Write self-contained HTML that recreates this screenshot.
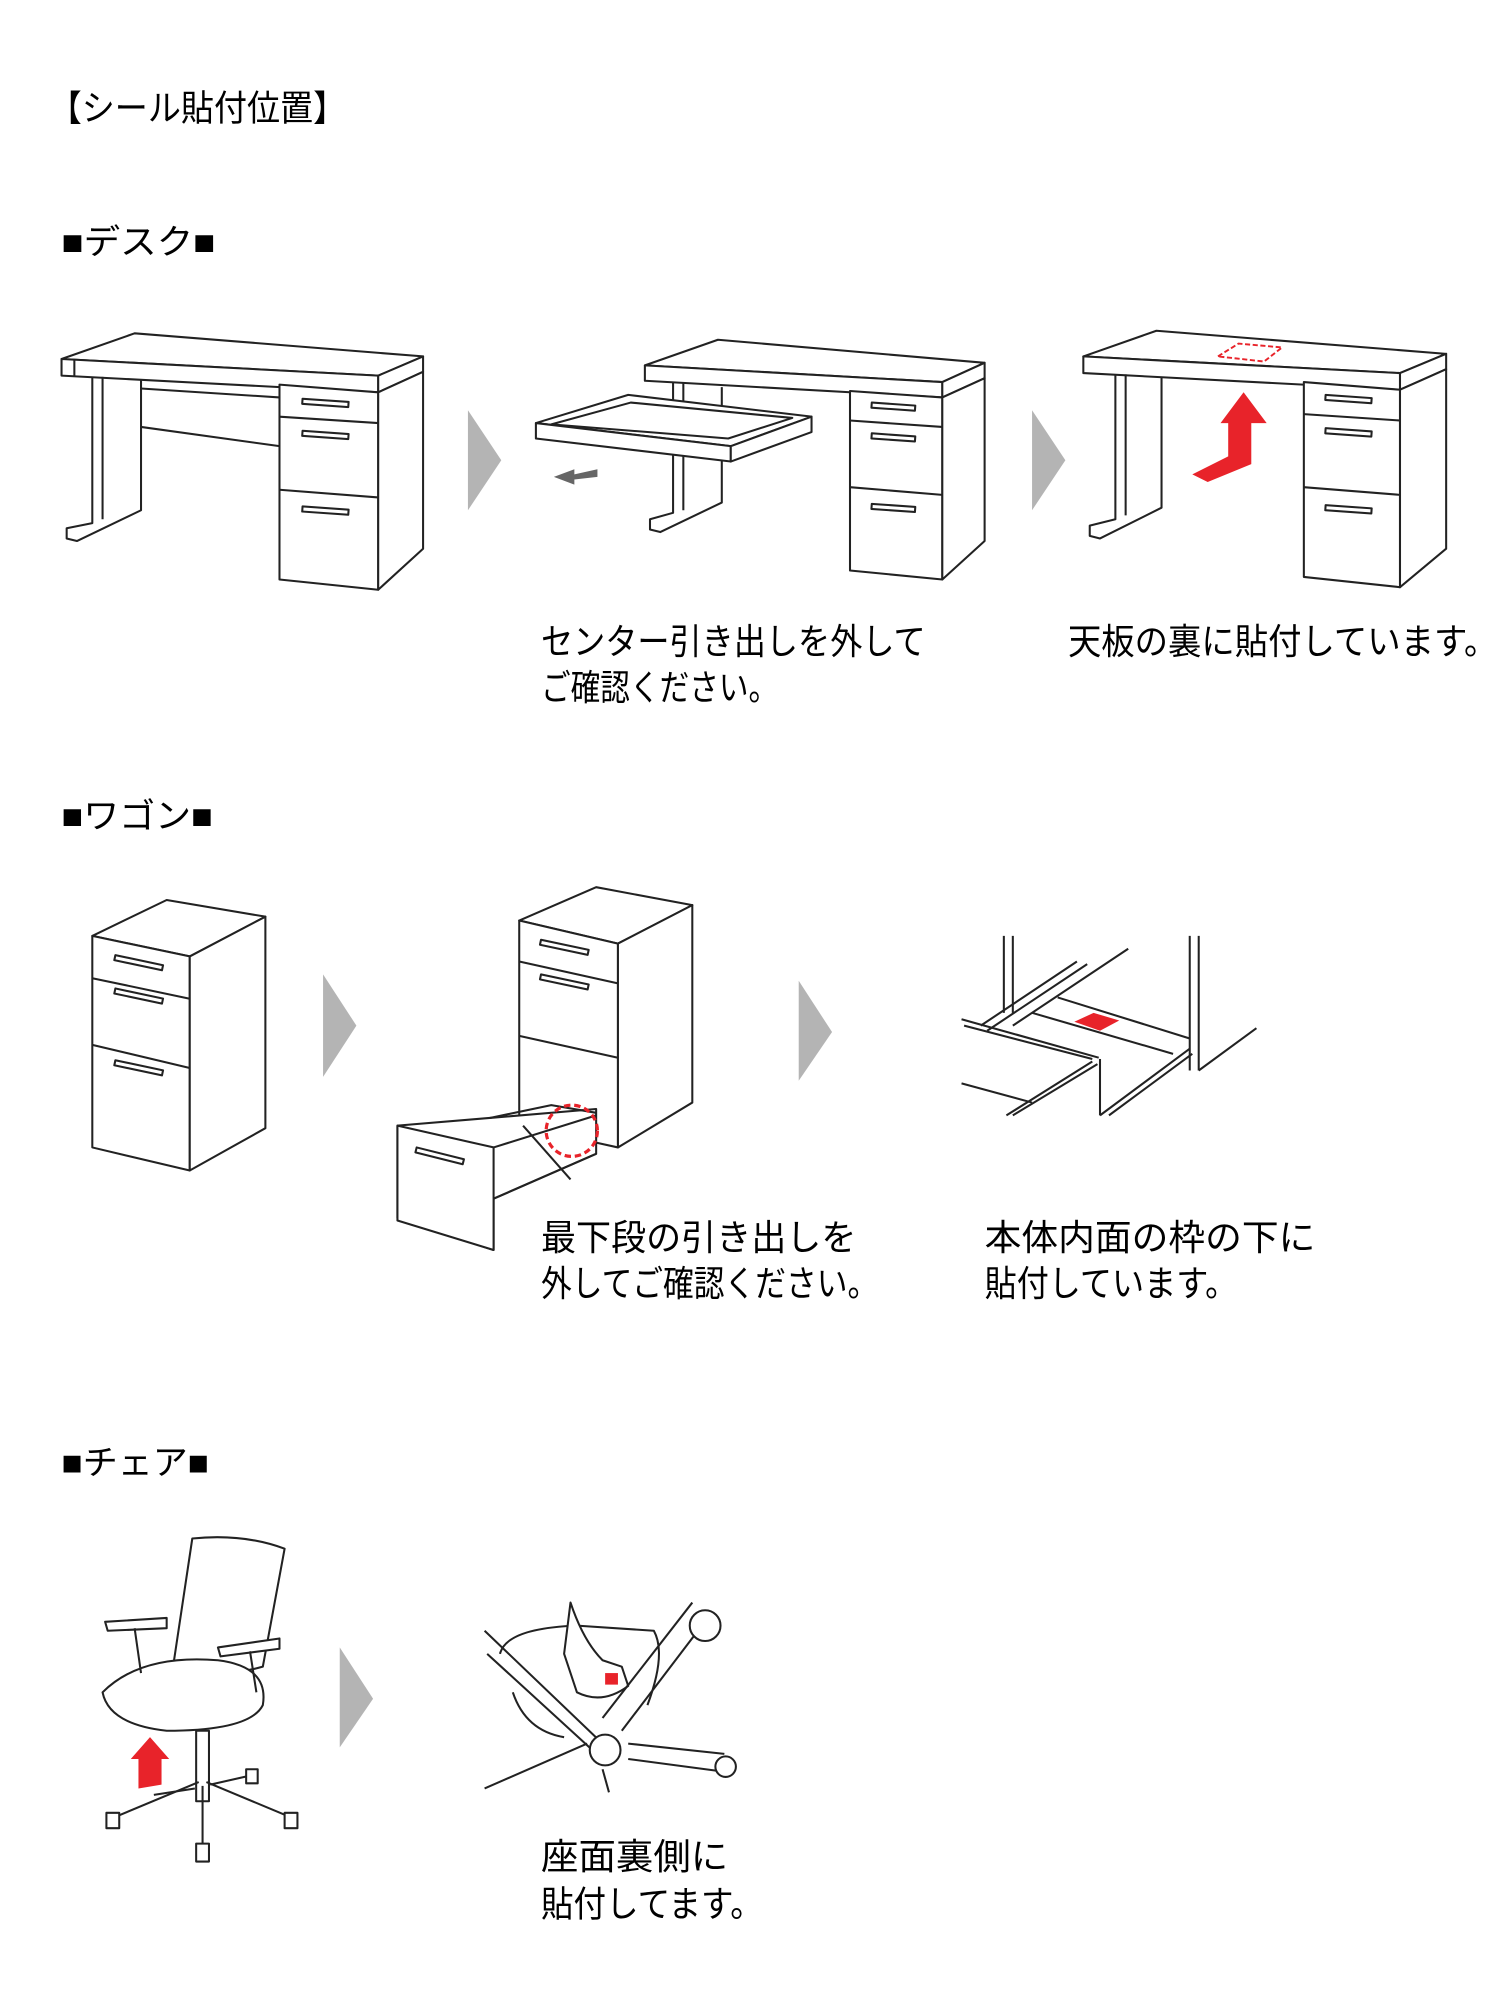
<!DOCTYPE html>
<html><head><meta charset="utf-8"><style>
html,body{margin:0;padding:0;background:#fff}
svg{display:block}
text{font-family:"Liberation Sans","Noto Sans CJK JP",sans-serif;fill:#000}
.l{fill:none;stroke:#222;stroke-width:1.6;stroke-linejoin:round}
.w{fill:#fff;stroke:#222;stroke-width:1.6;stroke-linejoin:round}
.g{fill:#b4b4b4}
</style></head><body>
<svg width="1500" height="2000" viewBox="0 0 1170 1560" xmlns="http://www.w3.org/2000/svg">
<text x="38" y="94" font-size="28" textLength="232" lengthAdjust="spacingAndGlyphs">【シール貼付位置】</text>
<text x="48" y="198" font-size="27" textLength="120" lengthAdjust="spacingAndGlyphs">■デスク■</text>
<text x="48" y="646" font-size="27" textLength="118" lengthAdjust="spacingAndGlyphs">■ワゴン■</text>
<text x="48" y="1150" font-size="27" textLength="115" lengthAdjust="spacingAndGlyphs">■チェア■</text>

<!-- arrows -->
<polygon class="g" points="365,320 391,359 365,398"/>
<polygon class="g" points="805,320 831,359 805,398"/>
<polygon class="g" points="252,760 278,800 252,840"/>
<polygon class="g" points="623,765 649,805 623,843"/>
<polygon class="g" points="265,1285 291,1325 265,1363"/>

<!-- Desk 1 -->
<g>
<polygon class="w" points="48,280 105,260 330,278 295,293"/>
<polygon class="w" points="48,280 295,293 295,306 48,293"/>
<polygon class="w" points="295,293 330,278 330,290 295,306"/>
<line class="l" x1="58" y1="294" x2="58" y2="280"/>
<polyline class="l" points="72,294 72,408 52,412 52,420 60,422 110,398 110,296"/>
<line class="l" x1="80" y1="294" x2="80" y2="405"/>
<line class="l" x1="110" y1="303" x2="218" y2="310"/>
<line class="l" x1="110" y1="333" x2="218" y2="348"/>
<polygon class="w" points="218,300 295,306 295,460 218,452"/>
<polygon class="w" points="295,306 330,290 330,428 295,460"/>
<line class="l" x1="218" y1="325" x2="295" y2="330"/>
<line class="l" x1="218" y1="382" x2="295" y2="388"/>
<rect class="l" x="236" y="311" width="36" height="4" transform="rotate(4 236 311)"/>
<rect class="l" x="236" y="336" width="36" height="4" transform="rotate(4 236 336)"/>
<rect class="l" x="236" y="395" width="36" height="4" transform="rotate(4 236 395)"/>
</g>

<!-- Desk 2 -->
<g>
<polygon class="w" points="503,285 560,265 768,283 735,298"/>
<polygon class="w" points="503,285 735,298 735,310 503,297"/>
<polygon class="w" points="735,298 768,283 768,295 735,310"/>
<polyline class="l" points="525,298 525,400 507,405 507,413 515,415 563,392 563,302"/>
<line class="l" x1="533" y1="298" x2="533" y2="398"/>
<polygon class="w" points="663,305 735,310 735,452 663,445"/>
<polygon class="w" points="735,310 768,295 768,422 735,452"/>
<line class="l" x1="663" y1="328" x2="735" y2="333"/>
<line class="l" x1="663" y1="380" x2="735" y2="386"/>
<rect class="l" x="680" y="314" width="34" height="4" transform="rotate(4 680 314)"/>
<rect class="l" x="680" y="338" width="34" height="4" transform="rotate(4 680 338)"/>
<rect class="l" x="680" y="393" width="34" height="4" transform="rotate(4 680 393)"/>
<polygon class="w" points="418,330 490,308 633,325 570,348"/>
<polygon class="l" points="430,331 492,314 618,326 568,342"/>
<polygon class="w" points="418,330 570,348 570,360 418,342"/>
<polygon class="w" points="570,348 633,325 633,337 570,360"/>
<polygon fill="#666" points="466,366 448,370 448,366 432,372 448,378 448,374 466,372"/>
</g>

<!-- Desk 3 -->
<g>
<polygon class="w" points="845,278 902,258 1128,276 1092,291"/>
<polygon class="w" points="845,278 1092,291 1092,304 845,291"/>
<polygon class="w" points="1092,291 1128,276 1128,288 1092,304"/>
<polyline class="l" points="870,292 870,405 850,410 850,418 858,420 906,396 906,294"/>
<line class="l" x1="878" y1="292" x2="878" y2="402"/>
<polygon class="w" points="1017,298 1092,304 1092,458 1017,450"/>
<polygon class="w" points="1092,304 1128,288 1128,428 1092,458"/>
<line class="l" x1="1017" y1="323" x2="1092" y2="328"/>
<line class="l" x1="1017" y1="380" x2="1092" y2="386"/>
<rect class="l" x="1034" y="308" width="36" height="4" transform="rotate(4 1034 308)"/>
<rect class="l" x="1034" y="334" width="36" height="4" transform="rotate(4 1034 334)"/>
<rect class="l" x="1034" y="394" width="36" height="4" transform="rotate(4 1034 394)"/>
<polygon fill="none" stroke="#e8232a" stroke-width="1.5" stroke-dasharray="4,2" points="950,278 966,268 1000,271 986,282"/>
<polygon fill="#e8232a" points="930,370 958,356 958,330 952,330 970,306 988,330 976,330 976,362 942,376"/>
</g>

<text x="422" y="510" font-size="28" textLength="300" lengthAdjust="spacingAndGlyphs">センター引き出しを外して</text>
<text x="422" y="546" font-size="28" textLength="185" lengthAdjust="spacingAndGlyphs">ご確認ください。</text>
<text x="833" y="510" font-size="28" textLength="335" lengthAdjust="spacingAndGlyphs">天板の裏に貼付しています。</text>

<!-- Wagon 1 -->
<g>
<polygon class="w" points="72,730 130,702 207,715 148,746"/>
<polygon class="w" points="72,730 148,746 148,913 72,895"/>
<polygon class="w" points="148,746 207,715 207,880 148,913"/>
<line class="l" x1="72" y1="763" x2="148" y2="779"/>
<line class="l" x1="72" y1="815" x2="148" y2="833"/>
<rect class="l" x="90" y="745" width="38" height="4" transform="rotate(12 90 745)"/>
<rect class="l" x="90" y="771" width="38" height="4" transform="rotate(12 90 771)"/>
<rect class="l" x="90" y="827" width="38" height="4" transform="rotate(12 90 827)"/>
</g>

<!-- Wagon 2 -->
<g>
<polygon class="w" points="405,718 465,692 540,706 482,736"/>
<polygon class="w" points="405,718 482,736 482,895 405,878"/>
<polygon class="w" points="482,736 540,706 540,860 482,895"/>
<line class="l" x1="405" y1="750" x2="482" y2="767"/>
<line class="l" x1="405" y1="808" x2="482" y2="825"/>
<rect class="l" x="422" y="733" width="38" height="4" transform="rotate(12 422 733)"/>
<rect class="l" x="422" y="760" width="38" height="4" transform="rotate(12 422 760)"/>
<polygon class="w" points="310,878 382,872 465,865 465,900 385,935 385,975 310,950"/>
<polygon class="w" points="310,878 385,895 385,975 310,952"/>
<polyline class="l" points="382,872 430,862 465,868"/>
<line class="l" x1="385" y1="895" x2="465" y2="870"/>
<line class="l" x1="385" y1="935" x2="465" y2="900"/>
<line class="l" x1="408" y1="878" x2="445" y2="920"/>
<rect class="l" x="325" y="895" width="38" height="4" transform="rotate(14 325 895)"/>
<circle cx="446" cy="882" r="20" fill="none" stroke="#e8232a" stroke-width="2.5" stroke-dasharray="5,3"/>
</g>

<!-- Wagon 3 -->
<g class="l">
<line x1="783" y1="730" x2="783" y2="790"/><line x1="790" y1="730" x2="790" y2="790"/>
<line x1="928" y1="730" x2="928" y2="835"/><line x1="935" y1="730" x2="935" y2="835"/>
<line x1="935" y1="835" x2="980" y2="802"/>
<line x1="765" y1="800" x2="840" y2="750"/><line x1="770" y1="804" x2="848" y2="752"/><line x1="790" y1="800" x2="880" y2="740"/>
<line x1="750" y1="795" x2="857" y2="825"/><line x1="752" y1="800" x2="852" y2="826"/>
<line x1="825" y1="778" x2="928" y2="810"/><line x1="805" y1="790" x2="915" y2="822"/>
<line x1="858" y1="826" x2="858" y2="870"/><line x1="858" y1="870" x2="928" y2="818"/><line x1="865" y1="870" x2="930" y2="822"/>
<line x1="785" y1="870" x2="852" y2="828"/><line x1="790" y1="870" x2="856" y2="830"/>
<line x1="750" y1="845" x2="805" y2="860"/>
</g>
<polygon fill="#e8232a" points="838,797 853,790 873,796 858,804"/>

<text x="422" y="975" font-size="28" textLength="246" lengthAdjust="spacingAndGlyphs">最下段の引き出しを</text>
<text x="422" y="1011" font-size="28" textLength="263" lengthAdjust="spacingAndGlyphs">外してご確認ください。</text>
<text x="768" y="975" font-size="28" textLength="258" lengthAdjust="spacingAndGlyphs">本体内面の枠の下に</text>
<text x="768" y="1011" font-size="28" textLength="197" lengthAdjust="spacingAndGlyphs">貼付しています。</text>

<!-- Chair 1 -->
<g>
<path class="w" d="M150,1200 Q190,1196 222,1208 L205,1300 Q170,1310 135,1300 Z"/>
<path class="w" d="M80,1320 Q110,1290 170,1295 Q210,1300 205,1330 Q195,1350 130,1350 Q85,1345 80,1320 Z"/>
<path class="w" d="M82,1265 L130,1262 L130,1270 L84,1272 Z"/>
<line class="l" x1="105" y1="1270" x2="110" y2="1305"/>
<path class="w" d="M170,1285 L218,1278 L218,1286 L172,1292 Z"/>
<line class="l" x1="195" y1="1288" x2="200" y2="1320"/>
<rect class="w" x="153" y="1350" width="10" height="55"/>
<polyline class="l" points="155,1390 88,1418"/><polyline class="l" points="161,1390 228,1418"/>
<polyline class="l" points="158,1393 158,1440"/><polyline class="l" points="152,1395 120,1400"/><polyline class="l" points="164,1392 195,1385"/>
<rect class="w" x="83" y="1414" width="10" height="12"/><rect class="w" x="222" y="1414" width="10" height="12"/>
<rect class="w" x="153" y="1438" width="10" height="14"/><rect class="w" x="192" y="1380" width="9" height="11"/>
<polygon fill="#e8232a" points="108,1395 108,1372 102,1372 117,1355 132,1372 126,1372 126,1392"/>
</g>

<!-- Chair 2 -->
<g>
<path class="l" d="M390,1290 Q395,1270 450,1268 L510,1272 Q520,1290 505,1330"/>
<path class="w" d="M445,1250 Q455,1280 470,1295 L485,1300 L490,1315 Q470,1330 450,1320 L440,1290 Z"/>
<line class="l" x1="378" y1="1272" x2="470" y2="1360"/>
<line class="l" x1="380" y1="1290" x2="462" y2="1365"/>
<line class="l" x1="540" y1="1250" x2="470" y2="1340"/>
<line class="l" x1="555" y1="1258" x2="485" y2="1350"/>
<line class="l" x1="378" y1="1395" x2="458" y2="1360"/>
<line class="l" x1="470" y1="1380" x2="475" y2="1398"/>
<line class="l" x1="490" y1="1360" x2="565" y2="1368"/><line class="l" x1="490" y1="1372" x2="565" y2="1382"/>
<circle class="w" cx="472" cy="1365" r="12"/>
<circle class="w" cx="550" cy="1268" r="12"/><circle class="w" cx="566" cy="1378" r="8"/>
<path class="l" d="M400,1320 Q410,1350 440,1355"/>
<rect fill="#e8232a" x="472" y="1305" width="10" height="9"/>
</g>

<text x="422" y="1458" font-size="28" textLength="146" lengthAdjust="spacingAndGlyphs">座面裏側に</text>
<text x="422" y="1495" font-size="28" textLength="173" lengthAdjust="spacingAndGlyphs">貼付してます。</text>
</svg>
</body></html>
